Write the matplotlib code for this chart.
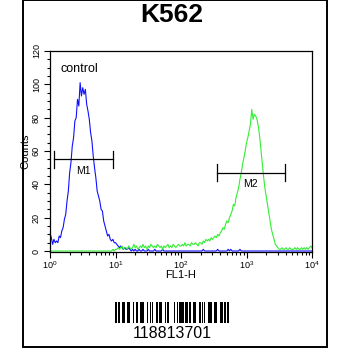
import numpy as np
import matplotlib as mpl
mpl.use('Agg')
import matplotlib.pyplot as plt
from matplotlib.patches import Rectangle
from matplotlib import rcParams
rcParams['font.family'] = ['Liberation Sans', 'DejaVu Sans']
rcParams['mathtext.fontset'] = 'custom'
rcParams['mathtext.rm'] = 'Liberation Sans'

########################################
# data: FL1-H histogram, one count per channel, channels 0.02 decades apart

channel = np.arange(201)           # channel index
decade_step = 0.02                 # decades per channel

control_counts = [
    11, 8, 4, 7, 5, 6, 5, 9, 8, 12,
    14, 19, 22, 30, 36, 47, 53, 63, 68, 78,
    80, 91, 87, 101, 93, 98, 94, 97, 88, 84,
    79, 71, 66, 57, 50, 44, 36, 33, 30, 25,
    24, 18, 15, 12, 9, 10, 7, 6, 7, 5,
    5, 4, 3, 2, 3, 2, 1, 2, 1, 1,
    2, 1, 0, 1, 0, 1, 0, 0, 1, 0,
    0, 1, 0, 0, 0, 1, 0, 0, 0, 0,
    1, 0, 0, 0, 0, 0, 1, 0, 0, 0,
    0, 0, 0, 0, 0, 0, 0, 0, 0, 0,
    0, 0, 0, 0, 0, 0, 0, 0, 0, 0,
    0, 0, 0, 0, 0, 0, 0, 1, 0, 0,
    0, 0, 0, 0, 0, 0, 0, 0, 1, 0,
    0, 0, 0, 0, 0, 0, 1, 0, 1, 0,
    0, 0, 0, 0, 0, 1, 0, 0, 0, 0,
    0, 0, 0, 0, 0, 0, 0, 0, 0, 0,
    0, 0, 0, 0, 0, 0, 0, 0, 0, 0,
    0, 0, 0, 0, 0, 0, 0, 0, 0, 0,
    0, 0, 0, 0, 0, 0, 0, 0, 0, 0,
    0, 0, 0, 0, 0, 0, 0, 0, 0, 0,
    0,
]

sample_counts = [
    0, 0, 0, 0, 0, 0, 0, 0, 0, 0,
    0, 0, 0, 0, 0, 0, 0, 0, 0, 0,
    0, 0, 0, 0, 0, 0, 0, 0, 0, 0,
    0, 0, 0, 0, 0, 0, 0, 0, 0, 0,
    0, 0, 0, 0, 0, 0, 0, 0, 1, 0,
    1, 1, 2, 1, 2, 3, 1, 2, 2, 1,
    3, 2, 1, 2, 4, 2, 3, 1, 2, 3,
    2, 4, 2, 3, 1, 3, 2, 4, 3, 2,
    3, 2, 4, 3, 2, 3, 1, 3, 2, 3,
    4, 2, 3, 2, 4, 3, 2, 3, 4, 3,
    3, 4, 3, 5, 3, 4, 4, 3, 5, 4,
    4, 5, 4, 3, 5, 5, 4, 6, 5, 7,
    6, 7, 6, 8, 7, 8, 9, 8, 10, 9,
    11, 12, 14, 13, 16, 18, 17, 20, 22, 24,
    28, 27, 32, 35, 38, 43, 47, 52, 56, 60,
    65, 68, 72, 76, 85, 79, 82, 81, 79, 75,
    69, 61, 53, 45, 38, 33, 28, 23, 18, 13,
    10, 7, 4, 3, 2, 1, 1, 2, 1, 1,
    2, 1, 1, 2, 1, 1, 1, 2, 1, 2,
    1, 1, 2, 1, 2, 1, 2, 1, 2, 3,
    2,
]

# marker gates (FL1-H range, height)
m1_range = (1.15, 9.3)
m1_height = 55
m2_range = (350, 3900)
m2_height = 47

# Code 128 module widths for "118813701" (start C, 11, 88, 13, 70, code B, 1, check, stop)
barcode_text = '118813701'
barcode_widths = [2, 1, 1, 2, 3, 2,  2, 3, 1, 2, 1, 2,  4, 2, 1, 2, 1, 1,
                  1, 2, 2, 1, 3, 2,  1, 1, 2, 4, 1, 2,  1, 1, 4, 1, 3, 1,
                  1, 2, 3, 2, 2, 1,  1, 1, 1, 2, 4, 2,  2, 3, 3, 1, 1, 1, 2]

########################################
# plot

W, H = 350., 350.
fig = plt.figure(figsize=(3.5, 3.5), dpi=100)

# outer frame
fig.patches.append(Rectangle((23 / W, 1 - 347 / H), 304 / W, 347 / H,
                             transform=fig.transFigure, fill=False,
                             lw=1.4, ec='black'))

fig.text(172 / W, 1 - 15 / H, 'K562', fontsize=19, fontweight='bold',
         ha='center', va='center')

ax = fig.add_axes([50 / W, 1 - 252 / H, 262 / W, 201 / H])
fl1 = 10 ** (channel * decade_step)
ax.plot(fl1, control_counts, color='#1010ff', lw=0.8)
ax.plot(fl1, sample_counts, color='#33ee33', lw=0.8)

ax.set_xscale('log')
ax.set_xlim(1, 1e4)
ax.set_ylim(-0.6, 120)
ax.set_yticks(np.arange(0, 121, 20))
ax.set_yticks(np.arange(0, 121, 5), minor=True)
ax.tick_params(which='both', direction='out', labelsize=6.5, width=0.8, pad=1.5)
ax.tick_params(axis='y', pad=2.5)
ax.tick_params(which='major', length=4)
ax.tick_params(which='minor', length=2)
for lab in ax.get_yticklabels():
    lab.set_rotation(90)
    lab.set_va('center')
for s in ax.spines.values():
    s.set_linewidth(0.9)

ax.set_xlabel('FL1-H', fontsize=8, labelpad=-1)
ax.set_ylabel('Counts', fontsize=8, labelpad=1)

ax.text(1.45, 109, 'control', fontsize=9, ha='left', va='center')


def gate(rng, h, label):
    x0, x1 = rng
    ax.plot([x0, x1], [h, h], color='black', lw=0.9)
    ax.plot([x0, x0], [h - 5, h + 5], color='black', lw=0.9)
    ax.plot([x1, x1], [h - 5, h + 5], color='black', lw=0.9)
    ax.text(np.sqrt(x0 * x1), h - 7, label, fontsize=7.5, ha='center', va='center')


gate(m1_range, m1_height, 'M1')
gate(m2_range, m2_height, 'M2')

# barcode
bax = fig.add_axes([115 / W, 1 - 323 / H, 114 / W, 21 / H])
pos = 0
for k, w in enumerate(barcode_widths):
    if k % 2 == 0:
        bax.bar(pos, 1, width=w, align='edge', color='black', lw=0)
    pos += w
bax.set_xlim(0, pos)
bax.set_ylim(0, 1)
bax.axis('off')
fig.text(172 / W, 1 - 333 / H, barcode_text, fontsize=11.5, ha='center', va='center')

fig.savefig('out.png', dpi=100)
